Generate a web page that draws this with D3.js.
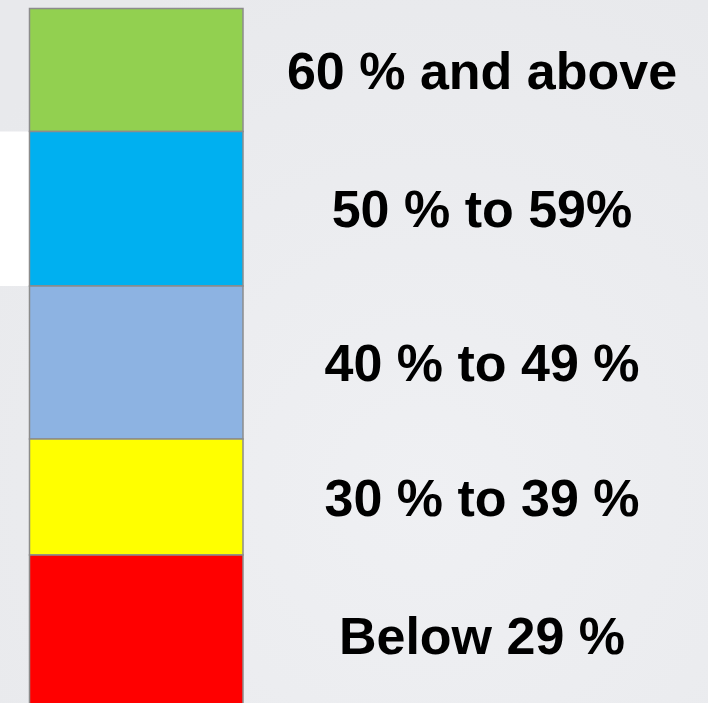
<!DOCTYPE html>
<html>
<head>
<meta charset="utf-8">
<script src="https://cdn.jsdelivr.net/npm/d3@7"></script>
<style>
  html, body { margin: 0; padding: 0; background: #eaebee; }
  svg { display: block; }
</style>
</head>
<body>
<svg id="legend-chart"></svg>
<script>
// legend bands, top to bottom
let labels = ["60 % and above", "50 % to 59%", "40 % to 49 %", "30 % to 39 %", "Below 29 %"];
let colors = ["#92d050", "#00b0f0", "#8db3e2", "#ffff00", "#ff0000"];
// relative band heights
let bandSpans = [123, 154.5, 153, 116, 160];

let width = 708;
let height = 703;

let svg = d3.select("#legend-chart")
  .attr("width", width)
  .attr("height", height);

// subtle background shading
let defs = svg.append("defs");
let grad = defs.append("radialGradient")
  .attr("id", "bg")
  .attr("cx", "60%").attr("cy", "70%").attr("r", "80%");
grad.append("stop").attr("offset", "0%").attr("stop-color", "#eff0f3");
grad.append("stop").attr("offset", "100%").attr("stop-color", "#e8e9ec");

svg.append("rect")
  .attr("width", width)
  .attr("height", height)
  .attr("fill", "url(#bg)");

let bands = [];
let acc = 0;
bandSpans.forEach((s, i) => {
  bands.push({label: labels[i], color: colors[i], y0: acc, y1: acc + s});
  acc += s;
});

let y = d3.scaleLinear()
  .domain([0, acc])
  .range([8.5, 715]);

let x0 = 29.5, x1 = 243;

// white panel peeking out left of the second band
svg.append("rect")
  .attr("x", 0)
  .attr("y", y(bands[1].y0))
  .attr("width", x0)
  .attr("height", y(bands[1].y1) - y(bands[1].y0))
  .attr("fill", "#ffffff");

svg.append("g").selectAll("rect")
  .data(bands)
  .enter()
  .append("rect")
    .attr("x", x0)
    .attr("y", d => y(d.y0))
    .attr("width", x1 - x0)
    .attr("height", d => y(d.y1) - y(d.y0))
    .attr("fill", d => d.color)
    .attr("stroke", "#8c8c8c")
    .attr("stroke-width", 1.5);

svg.append("g").selectAll("text")
  .data(bands)
  .enter()
  .append("text")
    .attr("x", 482)
    .attr("y", d => (y(d.y0) + y(d.y1)) / 2 + 18.5)
    .attr("text-anchor", "middle")
    .attr("font-family", "Liberation Sans, Arial, sans-serif")
    .attr("font-weight", "bold")
    .attr("font-size", 52)
    .attr("fill", "#000")
    .text(d => d.label);
</script>
</body>
</html>
